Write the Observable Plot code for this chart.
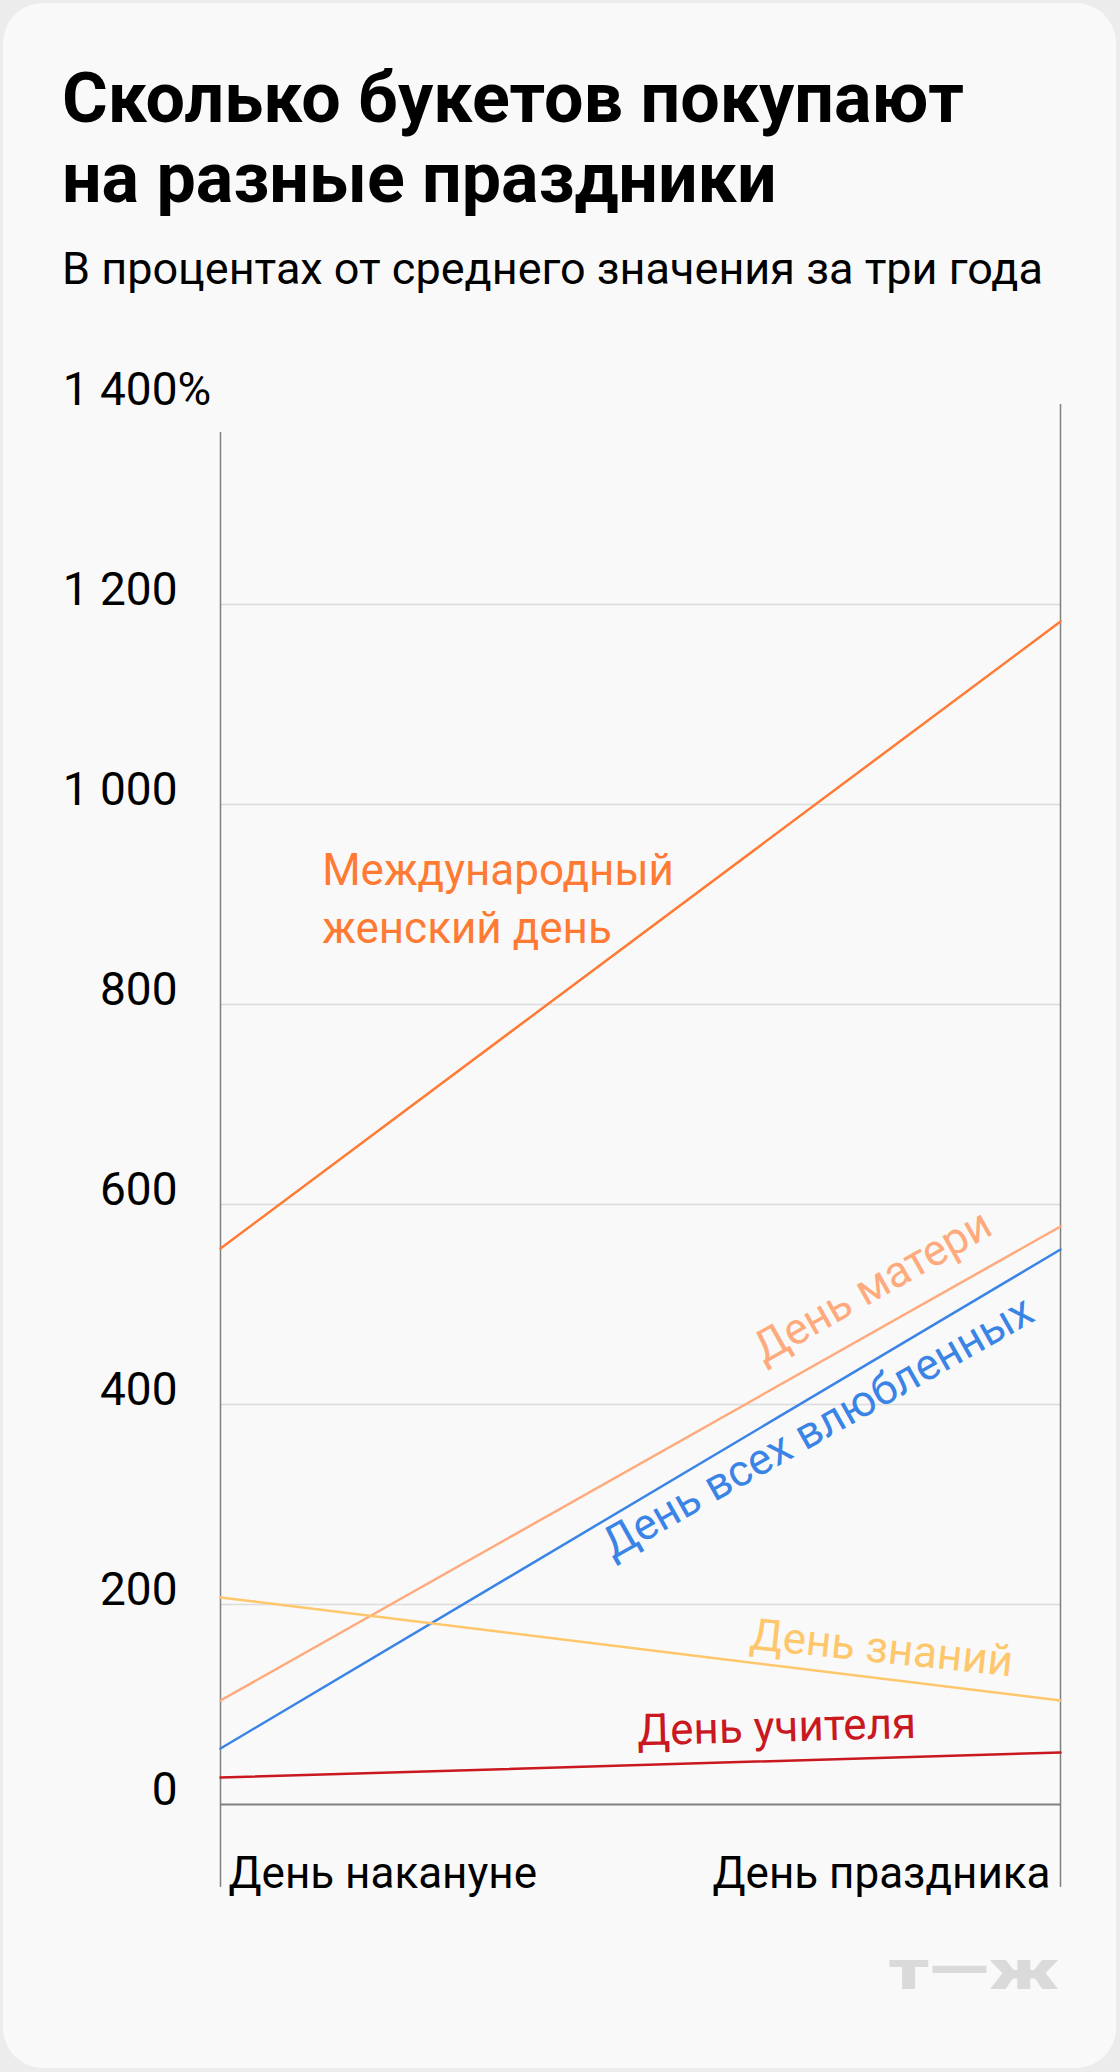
<!DOCTYPE html>
<html>
<head>
<meta charset="utf-8">
<script src="https://cdn.jsdelivr.net/npm/d3@7"></script>
<script src="https://cdn.jsdelivr.net/npm/@observablehq/plot@0.6"></script>
<style>
  html, body { margin: 0; padding: 0; }
  body { width: 1120px; height: 2072px; background: #ececec; position: relative; overflow: hidden; font-family: Roboto, "Noto Sans", sans-serif; }
  #card { position: absolute; left: 3px; top: 3px; width: 1113px; height: 2065px; background: #f9f9f9; border-radius: 40px; }
  #title { position: absolute; left: 62px; top: 58px; font-size: 70px; line-height: 80px; font-weight: 700; color: #000; white-space: nowrap; }
  #subtitle { position: absolute; left: 62px; top: 246px; font-size: 45px; line-height: 45px; color: #000; white-space: nowrap; }
  #chart { position: absolute; left: 0; top: 340px; }
  #logo { position: absolute; right: 61px; top: 1942px; font-size: 56px; line-height: 56px; font-weight: 900; color: #dadada; white-space: nowrap; transform: scaleX(1.4); transform-origin: right center; }
</style>
</head>
<body>
<div id="card"></div>
<div id="title">Сколько букетов покупают<br>на разные праздники</div>
<div id="subtitle">В процентах от среднего значения за три года</div>
<div id="chart"></div>
<div id="logo">т—ж</div>
<script>
// ---- data ----
const days = ["День накануне", "День праздника"];
const holidays = ["Международный женский день", "День матери", "День всех влюбленных", "День знаний", "День учителя"];
const eveValues = [556, 104, 56, 207, 27];     // % on the day before
const dayValues = [1183, 578, 555, 104, 52];   // % on the holiday
const holidayColors = ["#ff7a33", "#ffaa7c", "#3a84e6", "#ffc76b", "#c9181f"];
const yTicks = [0, 200, 400, 600, 800, 1000, 1200, 1400];
const gridTicks = [200, 400, 600, 800, 1000, 1200];
const yTickLabels = ["0", "200", "400", "600", "800", "1 000", "1 200", "1 400"];
const labelTexts = ["Международный\nженский день", "День матери", "День всех влюбленных", "День знаний", "День учителя"];

// ---- tables ----
const rows = [];
holidays.forEach((h, i) => {
  rows.push({holiday: h, day: 0, value: eveValues[i]});
  rows.push({holiday: h, day: 1, value: dayValues[i]});
});
const tickRows = yTicks.map((v, i) => ({v, label: yTickLabels[i]}));
const dayRows = days.map((d, i) => ({d, i}));

// annotation placement (data coordinates)
const mainLabel = [{holiday: holidays[0], text: labelTexts[0], x: 0.121, y: 862}];
const slopeLabels = [
  {holiday: holidays[1], text: labelTexts[1], x: 0.776, y: 518, r: -29.5},
  {holiday: holidays[2], text: labelTexts[2], x: 0.711, y: 377, r: -29.5},
  {holiday: holidays[3], text: labelTexts[3], x: 0.787, y: 156, r: 6},
  {holiday: holidays[4], text: labelTexts[4], x: 0.662, y: 77, r: -1.5}
];

const chart = Plot.plot({
  width: 1120,
  height: 1600,
  marginLeft: 220,
  marginRight: 60,
  marginTop: 64,
  marginBottom: 136,
  x: {type: "linear", domain: [0, 1], axis: null},
  y: {type: "linear", domain: [0, 1400], axis: null},
  color: {domain: holidays, range: holidayColors},
  style: {background: "transparent", fontFamily: "Roboto, sans-serif", fontSize: "44px", overflow: "visible"},
  marks: [
    Plot.ruleY(gridTicks, {stroke: "#dcdcdc", strokeWidth: 1.5}),
    Plot.ruleY([0], {stroke: "#808080", strokeWidth: 2}),
    Plot.ruleX(dayRows, {x: "i", y1: -83, y2: (d) => d.i === 0 ? 1372 : 1400, stroke: "#808080", strokeWidth: 1.5}),
    Plot.line(rows, {x: "day", y: "value", z: "holiday", stroke: "holiday", strokeWidth: 2.5}),
    Plot.text(mainLabel, {x: "x", y: "y", text: "text", fill: "holiday", textAnchor: "start", lineAnchor: "bottom", lineHeight: 1.318, fontSize: 44}),
    Plot.text(slopeLabels, {x: "x", y: "y", text: "text", fill: "holiday", rotate: "r", textAnchor: "middle", lineAnchor: "middle", fontSize: 44}),
    Plot.text(tickRows, {y: "v", text: "label", frameAnchor: "left", textAnchor: "end", lineAnchor: "bottom", dx: -43, fill: "#000", fontSize: 46}),
    Plot.text(tickRows.filter(d => d.v === 1400), {y: "v", text: () => "%", frameAnchor: "left", textAnchor: "start", lineAnchor: "bottom", dx: -43, fill: "#000", fontSize: 46}),
    Plot.text(dayRows.filter(d => d.i === 0), {x: "i", text: "d", frameAnchor: "bottom", textAnchor: "start", lineAnchor: "bottom", dx: 8, dy: 83, fill: "#000", fontSize: 44}),
    Plot.text(dayRows.filter(d => d.i === 1), {x: "i", text: "d", frameAnchor: "bottom", textAnchor: "end", lineAnchor: "bottom", dx: -10, dy: 83, fill: "#000", fontSize: 44})
  ]
});
document.getElementById("chart").appendChild(chart);
</script>
</body>
</html>
